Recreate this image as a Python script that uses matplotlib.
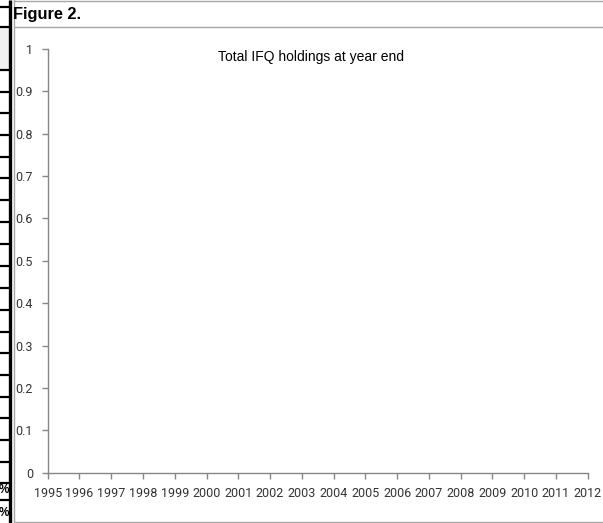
import matplotlib
matplotlib.use("Agg")
import matplotlib.pyplot as plt

# chart data (the series area is empty in the source)
years = list(range(1995, 2013))
y_ticks = [0, 0.1, 0.2, 0.3, 0.4, 0.5, 0.6, 0.7, 0.8, 0.9, 1]
y_labels = ["0", "0.1", "0.2", "0.3", "0.4", "0.5", "0.6", "0.7", "0.8", "0.9", "1"]
chart_title = "Total IFQ holdings at year end"
fig_label = "Figure 2."

W, H = 603, 523
fig = plt.figure(figsize=(W / 100, H / 100), dpi=100)


def px_axes(x0, y0, x1, y1, **kw):
    # axes placed by pixel box (top-left origin)
    return fig.add_axes([x0 / W, 1 - y1 / H, (x1 - x0) / W, (y1 - y0) / H], **kw)


# --- decorations (spreadsheet grid remains, frame) ---
deco = px_axes(0, 0, W, H)
deco.set_xlim(0, W)
deco.set_ylim(H, 0)
deco.axis("off")

gray = "#a6a6a6"
deco.fill_between([0, 9], 27, 70, color="#f0f0f0", lw=0)
row_edges = [7, 27, 70, 92, 113, 135, 157, 178, 200, 222, 244, 266, 288,
             310, 332, 353, 375, 397, 418, 440, 462, 483, 500]
for yy in row_edges:
    deco.plot([0, 10], [yy, yy], color="black", lw=1.6, solid_capstyle="butt")
deco.plot([10, 10], [0, H], color="black", lw=2.4, solid_capstyle="butt")

deco.plot([13.5, W], [1, 1], color=gray, lw=1)
deco.plot([13.5, 13.5], [0, 26], color=gray, lw=1)
deco.plot([W, 14, 14, W], [26.5, 26.5, 521.5, 521.5], color=gray, lw=1)
deco.text(13, 14, fig_label, fontsize=11.8, fontweight="bold",
          family="Liberation Sans", ha="left", va="center")
deco.text(311, 57, chart_title, fontsize=10, family="Liberation Sans",
          ha="center", va="center")

# clipped "%" signs from the neighbouring column
pct = px_axes(0, 483, 9, 523)
pct.set_xlim(0, 9)
pct.set_ylim(40, 0)
pct.axis("off")
for yy in [7, 30]:
    pct.text(9, yy, "%", fontsize=8.5, fontweight="bold", family="Liberation Sans",
             ha="right", va="center", clip_on=True)

# --- chart ---
ax = px_axes(47.7, 49, 587.7, 472.7)
ax.set_xlim(years[0], years[-1])
ax.set_ylim(0, 1)
ax.set_xticks(years)
ax.set_xticklabels([str(y) for y in years])
ax.set_yticks(y_ticks)
ax.set_yticklabels(y_labels)
ax.patch.set_alpha(0)
for s in ["top", "right"]:
    ax.spines[s].set_visible(False)
for s in ["left", "bottom"]:
    ax.spines[s].set_color("#868686")
    ax.spines[s].set_linewidth(1)
ax.tick_params(axis="both", direction="out", length=4, width=1, color="#868686",
               labelcolor="#333333", labelsize=9)
ax.tick_params(axis="y", pad=6.5)
ax.tick_params(axis="x", pad=6.5)
for lab in ax.get_xticklabels() + ax.get_yticklabels():
    lab.set_family("Roboto")

fig.savefig("out.png", dpi=100)
